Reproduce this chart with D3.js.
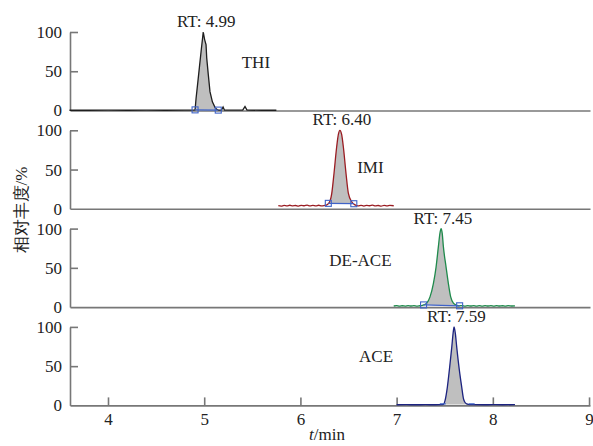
<!DOCTYPE html>
<html>
<head>
<meta charset="utf-8">
<script src="https://cdn.jsdelivr.net/npm/d3@7"></script>
<style>
  html, body { margin: 0; padding: 0; background: #fff; }
  svg { display: block; }
  svg text { font-family: "Liberation Serif", serif; }
</style>
</head>
<body>
<svg id="chart" width="593" height="446"></svg>
<script>
// ---------------- data ----------------
const timeTicks = [4, 5, 6, 7, 8, 9];
const intensityTicks = [0, 50, 100];
const compounds = ["THI", "IMI", "DE-ACE", "ACE"];
const retentionTimes = [4.99, 6.40, 7.45, 7.59];
const rtLabels = ["RT: 4.99", "RT: 6.40", "RT: 7.45", "RT: 7.59"];

// [time (min), relative abundance (%)]
const thiTrace = [
  [3.60,0.3],[3.80,0.3],[4.00,0.4],[4.20,0.3],[4.40,0.4],[4.60,0.3],[4.80,0.4],[4.88,0.4],
  [4.905,0.8],[4.915,15],[4.93,32],[4.95,55],[4.97,78],[4.99,100],[5.005,90],[5.019,84],
  [5.026,67],[5.043,45],[5.06,24],[5.085,11],[5.112,4],[5.13,1.5],[5.146,0.5],[5.18,0.5],
  [5.196,4.5],[5.21,0.5],[5.40,0.4],[5.424,5],[5.445,0.4],[5.60,0.3],[5.75,0.3]
];
const imiTrace = [
  [5.77,4.0],[5.80,3.4],[5.83,4.3],[5.86,3.7],[5.89,4.5],[5.92,3.8],[5.95,4.2],[5.98,3.5],
  [6.01,4.4],[6.04,3.9],[6.07,4.6],[6.10,3.6],[6.13,4.3],[6.16,3.6],[6.19,4.5],[6.22,3.8],
  [6.25,4.3],[6.27,4.8],[6.30,8],[6.325,19],[6.349,45],[6.377,79],[6.395,95],[6.41,100],
  [6.428,95],[6.446,79],[6.474,45],[6.498,20],[6.533,9],[6.568,5],[6.60,3.7],[6.63,4.4],
  [6.66,3.5],[6.69,4.3],[6.72,3.9],[6.75,4.6],[6.78,3.6],[6.81,4.2],[6.84,3.4],[6.87,4.4],
  [6.90,3.8],[6.93,4.3],[6.97,3.9]
];
const deaceTrace = [
  [6.97,1.4],[7.00,1.9],[7.03,1.2],[7.06,1.7],[7.09,1.3],[7.12,2.0],[7.15,1.4],[7.18,1.8],
  [7.21,1.3],[7.24,1.7],[7.26,2.0],[7.29,3.2],[7.313,5],[7.347,13],[7.382,30],[7.41,51],
  [7.434,77],[7.45,94],[7.462,100],[7.474,94],[7.486,77],[7.514,51],[7.538,30],[7.562,13],
  [7.59,5],[7.62,2.6],[7.65,1.6],[7.68,2.0],[7.71,1.3],[7.74,1.9],[7.77,1.4],[7.80,2.0],
  [7.83,1.3],[7.86,1.8],[7.89,1.2],[7.92,1.9],[7.95,1.4],[7.98,1.8],[8.01,1.2],[8.04,2.0],
  [8.07,1.4],[8.10,1.7],[8.13,1.2],[8.16,1.9],[8.20,1.4],[8.23,1.6]
];
const aceTrace = [
  [7.00,0.8],[7.10,0.9],[7.20,0.8],[7.30,0.9],[7.40,0.8],[7.46,0.9],[7.486,1.2],[7.503,6],
  [7.527,23],[7.548,45],[7.573,74],[7.59,95],[7.597,100],[7.61,92],[7.625,74],[7.652,45],
  [7.677,23],[7.694,9],[7.71,4],[7.729,2],[7.76,1],[7.80,0.9],[7.90,0.8],[8.00,0.9],
  [8.10,0.8],[8.23,0.9]
];
const traces = [thiTrace, imiTrace, deaceTrace, aceTrace];
// integration start / end (min)
const integrationBounds = [[4.905, 5.146], [6.29, 6.555], [7.28, 7.655], [7.48, 7.78]];

// ---------------- styles / layout ----------------
const lineColors = ["#1e1e1e", "#9a1c22", "#1f8a4c", "#1c2380"];
const curves = [d3.curveLinear, d3.curveMonotoneX, d3.curveMonotoneX, d3.curveMonotoneX];
const markerStyle = ["square", "square", "square", "dash"];
const labelAnchor = [[5.39, 54], [6.59, 45], [6.30, 52], [6.61, 55]]; // [time, %] of compound label start
const axisColor = "#777";
const fontSize = 17;
const serif = "'Liberation Serif', 'Times New Roman', serif";

const svg = d3.select("#chart");
const left = 70, right = 590;
const panelTop0 = 32, panelHeight = 78.5, panelStep = 98.3;

const x = d3.scaleLinear().domain([3.605, 9.01]).range([left, right]);

traces.forEach((trace, i) => {
  const top = panelTop0 + i * panelStep;
  const bottom = top + panelHeight;
  const y = d3.scaleLinear().domain([0, 100]).range([bottom, top]);
  const g = svg.append("g");

  // integration fill
  const [b0, b1] = integrationBounds[i];
  const interp = t => {
    const k = d3.bisector(d => d[0]).left(trace, t);
    if (k <= 0) return trace[0][1];
    if (k >= trace.length) return trace[trace.length - 1][1];
    const a = trace[k - 1], b = trace[k];
    return a[1] + (b[1] - a[1]) * (t - a[0]) / (b[0] - a[0]);
  };
  const v0 = interp(b0), v1 = interp(b1);
  const base = t => v0 + (v1 - v0) * (t - b0) / (b1 - b0);
  const inside = [[b0, v0]].concat(trace.filter(d => d[0] > b0 && d[0] < b1), [[b1, v1]]);
  g.append("path")
    .datum(inside)
    .attr("fill", "#bfbfbf")
    .attr("d", d3.area().curve(curves[i])
      .x(d => x(d[0])).y0(d => y(base(d[0]))).y1(d => y(d[1])));

  // axes
  const yAxis = d3.axisLeft(y).tickValues(intensityTicks).tickSizeInner(-8).tickSizeOuter(0).tickPadding(8);
  const yg = g.append("g").attr("transform", `translate(${left},0)`).call(yAxis);
  const isLast = i === traces.length - 1;
  const xAxis = d3.axisBottom(x).tickValues(isLast ? timeTicks : []).tickSizeInner(-8).tickSizeOuter(0).tickPadding(8)
    .tickFormat(d3.format("d"));
  const xg = g.append("g").attr("transform", `translate(0,${bottom})`).call(xAxis);
  [yg, xg].forEach(ax => {
    ax.attr("font-family", serif).attr("font-size", fontSize);
    ax.selectAll("path, line").attr("stroke", axisColor).attr("stroke-width", 1.6);
    ax.selectAll("text").attr("fill", "#222");
  });
  yg.selectAll(".tick").filter(d => d === 0).select("line").remove();

  // trace line
  g.append("path")
    .datum(trace)
    .attr("fill", "none")
    .attr("stroke", lineColors[i])
    .attr("stroke-width", 1.3)
    .attr("d", d3.line().curve(curves[i]).x(d => x(d[0])).y(d => y(d[1])));

  // integration markers
  if (markerStyle[i] === "square") {
    g.append("line")
      .attr("x1", x(b0)).attr("x2", x(b1))
      .attr("y1", y(v0)).attr("y2", y(v1))
      .attr("stroke", "#3f63c8").attr("stroke-width", 1.3);
    g.selectAll("rect.m").data([[b0, v0], [b1, v1]]).enter().append("rect")
      .attr("x", d => x(d[0]) - 3).attr("y", d => y(d[1]) - 3)
      .attr("width", 6).attr("height", 6)
      .attr("fill", "none").attr("stroke", "#3f63c8").attr("stroke-width", 1.1);
  } else {
    g.selectAll("line.m").data([[b0, 2], [b1, 2]]).enter().append("line")
      .attr("x1", d => x(d[0]) - 3).attr("x2", d => x(d[0]) + 3)
      .attr("y1", d => y(d[1])).attr("y2", d => y(d[1]))
      .attr("stroke", "#3f63c8").attr("stroke-width", 1.2);
  }

  // RT label
  g.append("text")
    .attr("x", x(retentionTimes[i]) + 3)
    .attr("y", y(100) - 5)
    .attr("text-anchor", "middle")
    .attr("font-family", serif)
    .attr("font-size", fontSize)
    .attr("fill", "#222")
    .text(rtLabels[i]);

  // compound label
  g.append("text")
    .attr("x", x(labelAnchor[i][0]))
    .attr("y", y(labelAnchor[i][1]))
    .attr("font-family", serif)
    .attr("font-size", fontSize)
    .attr("fill", "#222")
    .text(compounds[i]);
});

// y-axis title
svg.append("text")
  .attr("transform", "translate(27,210) rotate(-90)")
  .attr("text-anchor", "middle")
  .attr("font-family", "'Liberation Serif', 'Noto Sans CJK SC', serif")
  .attr("font-size", 17)
  .attr("font-weight", 300)
  .attr("fill", "#222")
  .text("相对丰度/%");

// x-axis title
const xt = svg.append("text")
  .attr("x", 327).attr("y", 440)
  .attr("text-anchor", "middle")
  .attr("font-family", serif)
  .attr("font-size", 17)
  .attr("fill", "#222");
xt.append("tspan").attr("font-style", "italic").text("t");
xt.append("tspan").text("/min");
</script>
</body>
</html>
